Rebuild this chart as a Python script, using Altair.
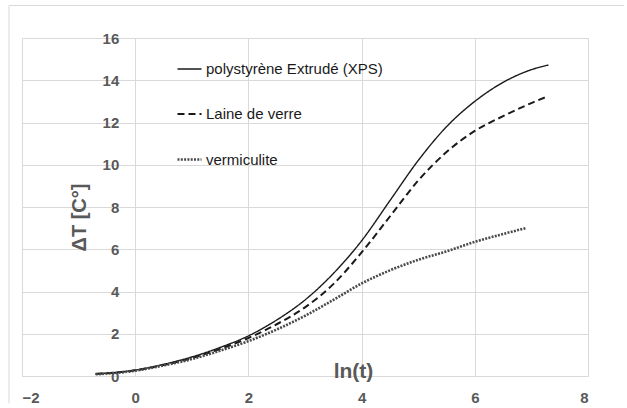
import altair as alt
import pandas as pd

# Temperature rise against ln(t) for three insulating materials
series_names = ["polystyrène Extrudé  (XPS)", "Laine de verre", "vermiculite"]

ln_t = [-0.7, 0, 0.5, 1, 1.5, 2, 2.5, 3, 3.5, 4, 4.5, 5, 5.5, 6, 6.5, 7, 7.3]
dT_xps = [0.1, 0.28, 0.55, 0.9, 1.35, 1.9, 2.65, 3.6, 4.85, 6.4, 8.3, 10.2,
          11.8, 13.0, 13.9, 14.5, 14.72]
dT_laine = [0.1, 0.27, 0.52, 0.85, 1.28, 1.8, 2.45, 3.25, 4.35, 5.85, 7.55,
            9.25, 10.6, 11.6, 12.3, 12.92, 13.25]

ln_t_verm = [-0.7, 0, 0.5, 1, 1.5, 2, 2.5, 3, 3.5, 4, 4.5, 5, 5.5, 6, 6.5, 6.9]
dT_verm = [0.08, 0.25, 0.5, 0.8, 1.2, 1.65, 2.2, 2.85, 3.6, 4.38, 5.0, 5.5,
           5.9, 6.35, 6.72, 7.0]

x_ticks = [-2, 0, 2, 4, 6, 8]
y_ticks = [0, 2, 4, 6, 8, 10, 12, 14, 16]

frames = []
for name, xs, ys in [
    (series_names[0], ln_t, dT_xps),
    (series_names[1], ln_t, dT_laine),
    (series_names[2], ln_t_verm, dT_verm),
]:
    frames.append(pd.DataFrame({"lnt": xs, "dT": ys, "serie": name}))
df = pd.concat(frames, ignore_index=True)

W, H = 564, 337.5
GREY = "#595959"
GRID = "#d9d9d9"
FONT = "Liberation Sans"

legend = alt.Legend(
    title=None,
    orient="none",
    legendX=154,
    legendY=18,
    padding=0,
    symbolType="stroke",
    symbolSize=576,
    labelFont=FONT,
    labelFontSize=15,
    labelColor="#1a1a1a",
    labelOffset=3,
    labelLimit=400,
    rowPadding=24,
)

lines = alt.Chart(df).mark_line(interpolate="monotone").encode(
    x=alt.X(
        "lnt:Q",
        scale=alt.Scale(domain=[-2, 8], nice=False, zero=False),
        axis=alt.Axis(
            values=x_ticks,
            domain=False,
            ticks=False,
            labelPadding=14,
            labelFont=FONT,
            labelFontSize=15,
            labelFontWeight="bold",
            labelColor=GREY,
            gridColor=GRID,
            title="ln(t)",
            titleFont=FONT,
            titleFontSize=21,
            titleFontWeight="bold",
            titleColor=GREY,
            titleX=331,
            titleY=1,
            titleAlign="center",
            titleBaseline="alphabetic",
        ),
    ),
    y=alt.Y(
        "dT:Q",
        scale=alt.Scale(domain=[0, 16], nice=False),
        axis=alt.Axis(
            values=y_ticks,
            offset=-112.8,
            domain=False,
            ticks=False,
            tickSize=0,
            labelPadding=16,
            labelFont=FONT,
            labelFontSize=15,
            labelFontWeight="bold",
            labelColor=GREY,
            gridColor=GRID,
            title="ΔT [C°]",
            titleFont=FONT,
            titleFontSize=20,
            titleFontWeight="bold",
            titleColor=GREY,
            titleX=-55.5,
            titleY=179,
            titleAngle=270,
            titleAlign="center",
            titleBaseline="middle",
        ),
    ),
    color=alt.Color(
        "serie:N",
        scale=alt.Scale(domain=series_names, range=["#1a1a1a", "#1a1a1a", "#4a4a4a"]),
        legend=legend,
    ),
    strokeDash=alt.StrokeDash(
        "serie:N",
        scale=alt.Scale(domain=series_names, range=[[1, 0], [7, 4], [2, 1.3]]),
        legend=legend,
    ),
    strokeWidth=alt.StrokeWidth(
        "serie:N",
        scale=alt.Scale(domain=series_names, range=[1.4, 2.6, 1.0]),
        legend=legend,
    ),
)

# light border along the left and top of the chart area
frame_left = alt.Chart(alt.Data(values=[{}])).mark_rule(
    color=GRID, strokeWidth=1
).encode(x=alt.value(-13), y=alt.value(-32.5), y2=alt.value(H + 28))
frame_top = alt.Chart(alt.Data(values=[{}])).mark_rule(
    color=GRID, strokeWidth=1
).encode(x=alt.value(-13), x2=alt.value(W + 38), y=alt.value(-32.5))

chart = alt.layer(frame_left, frame_top, lines).properties(
    width=627, height=408,
    autosize=alt.AutoSizeParams(type="fit", contains="padding"),
    padding={"left": 8, "top": 5, "right": 39, "bottom": 3},
).configure_view(stroke=None).configure(background="white")

chart.save("out.html", embed_options={"renderer": "svg", "actions": False})
